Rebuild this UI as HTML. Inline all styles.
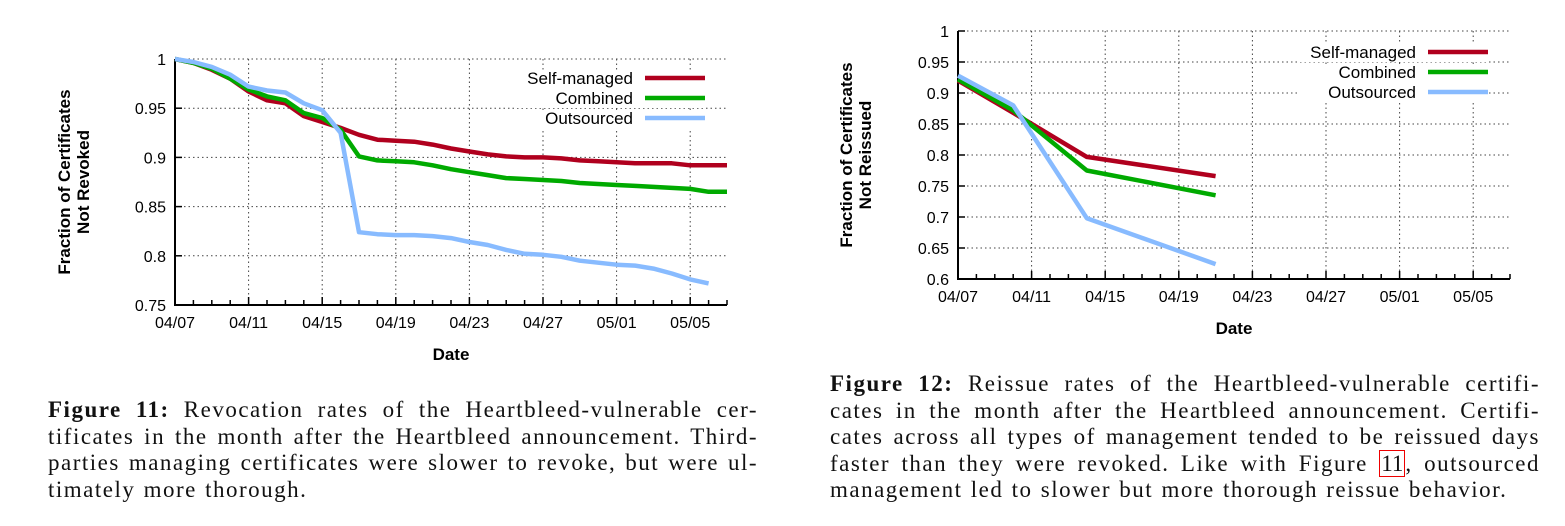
<!DOCTYPE html>
<html><head><meta charset="utf-8"><style>
body{margin:0;width:1565px;height:526px;background:#fff;overflow:hidden;position:relative;font-family:"Liberation Sans",sans-serif}
svg{position:absolute;left:0;top:0}
.cap{position:absolute;font-family:"Liberation Serif",serif;font-size:23px;letter-spacing:1.5px;word-spacing:1px;line-height:26.5px;color:#111}
.cap div{text-align:justify;text-align-last:justify;white-space:nowrap}
.cap div.last{text-align-last:left}
.ref{border:1.5px solid #e00;padding:0 1px;letter-spacing:0}
</style></head><body>
<svg id="svg" width="1565" height="526"></svg>
<div class="cap" style="left:48px;top:397px;width:710px">
<div><b>Figure 11:</b> Revocation rates of the Heartbleed-vulnerable cer-</div>
<div>tificates in the month after the Heartbleed announcement. Third-</div>
<div>parties managing certificates were slower to revoke, but were ul-</div>
<div class="last">timately more thorough.</div>
</div>
<div class="cap" style="left:830px;top:371px;width:710px">
<div><b>Figure 12:</b> Reissue rates of the Heartbleed-vulnerable certifi-</div>
<div>cates in the month after the Heartbleed announcement. Certifi-</div>
<div>cates across all types of management tended to be reissued days</div>
<div>faster than they were revoked. Like with Figure <span class="ref">11</span>, outsourced</div>
<div class="last">management led to slower but more thorough reissue behavior.</div>
</div>
<script>
const xTickLabels=["04/07","04/11","04/15","04/19","04/23","04/27","05/01","05/05"];
const seriesNames=["Self-managed","Combined","Outsourced"];
const colors=["#b0001e","#00aa00","#88bbff"];
const revSelf=[1,.996,.989,.980,.967,.958,.955,.942,.936,.930,.923,.918,.917,.916,.913,.909,.906,.903,.901,.900,.900,.899,.897,.896,.895,.894,.894,.894,.892,.892,.892];
const revComb=[1,.996,.990,.980,.969,.962,.958,.945,.940,.928,.901,.897,.896,.895,.892,.888,.885,.882,.879,.878,.877,.876,.874,.873,.872,.871,.870,.869,.868,.865,.865];
const revOut=[1,.997,.992,.984,.972,.968,.966,.955,.948,.925,.824,.822,.821,.821,.820,.818,.814,.811,.806,.802,.801,.799,.795,.793,.791,.790,.787,.782,.776,.772];
const reiDays=[0,3,7,14];
const reiSelf=[.920,.868,.797,.766];
const reiComb=[.922,.872,.775,.735];
const reiOut=[.928,.880,.698,.624];
const revYTicks=[0.75,0.8,0.85,0.9,0.95,1];
const reiYTicks=[0.6,0.65,0.7,0.75,0.8,0.85,0.9,0.95,1];
const NS="http://www.w3.org/2000/svg";
const svg=document.getElementById('svg');
function mk(tag,attrs,parent){const e=document.createElementNS(NS,tag);for(const k in attrs)e.setAttribute(k,attrs[k]);(parent||svg).appendChild(e);return e;}
function chart(o){
  const g=mk('g',{});
  
  
  const X=d=>o.x0+(o.x1-o.x0)*d/30;
  const Y=v=>o.y1-(o.y1-o.y0)*(v-o.ymin)/(o.ymax-o.ymin);
  o.yticks.forEach(v=>{
    if(v>o.ymin){const l=mk('line',{x1:o.x0,x2:o.x1,y1:Y(v),y2:Y(v),stroke:'#444','stroke-width':1,'stroke-dasharray':'1.5,3'},g);
    }
    const t=mk('text',{x:o.x0-9,y:Y(v)+6,'text-anchor':'end','font-size':16},g);t.textContent=String(v);
    
    mk('line',{x1:o.x0,x2:o.x0+7,y1:Y(v),y2:Y(v),stroke:'#000','stroke-width':1.5},g);
  });
  xTickLabels.forEach((s,i)=>{
    const d=i*4,x=X(d);
    if(d>0){const l=mk('line',{x1:x,x2:x,y1:o.y0,y2:o.y1,stroke:'#444','stroke-width':1,'stroke-dasharray':'1.5,3'},g);
    }
    const t=mk('text',{x:x,y:o.y1+23,'text-anchor':'middle','font-size':16},g);t.textContent=s;
    
  });
  for(let d=0;d<=30;d++){const big=d%4==0;mk('line',{x1:X(d),x2:X(d),y1:o.y1,y2:o.y1-(big?8:5),stroke:'#000','stroke-width':1.5},g);}
  const ax=mk('path',{d:`M${o.x0},${o.y0}V${o.y1}H${o.x1}`,fill:'none',stroke:'#000','stroke-width':2},g);
  
  const xl=mk('text',{x:(o.x0+o.x1)/2,y:o.y1+55,'text-anchor':'middle','font-size':17,'font-weight':'bold'},g);xl.textContent='Date';
  
  const yl=mk('text',{transform:`translate(${o.ylx},${(o.y0+o.y1)/2}) rotate(-90)`,'text-anchor':'middle','font-size':17,'font-weight':'bold'},g);
  
  const a=mk('tspan',{x:0,dy:-2},yl);a.textContent='Fraction of Certificates';
  const b=mk('tspan',{x:0,dy:19},yl);b.textContent=o.ytitle;
  seriesNames.forEach((n,i)=>{
    const y=o.legY+i*20;
    mk('rect',{x:o.legX-118,y:y-14,width:190,height:18,fill:'#fff'},g);
  });
  o.series.forEach((s,i)=>{
    const pts=s.vals.map((v,j)=>`${X(s.days?s.days[j]:j).toFixed(1)},${Y(v).toFixed(1)}`).join(' ');
    const p=mk('polyline',{points:pts,fill:'none',stroke:colors[i],'stroke-width':4.5,'stroke-linejoin':'round'},g);
    
  });
  seriesNames.forEach((n,i)=>{
    const y=o.legY+i*20;
    const t=mk('text',{x:o.legX,y:y,'text-anchor':'end','font-size':17},g);t.textContent=n;
    
    const l=mk('line',{x1:o.legX+12,x2:o.legX+72,y1:y-6,y2:y-6,stroke:colors[i],'stroke-width':4.5},g);
    
  });
}
chart({name:'revocation-chart',x0:175,x1:727,y0:59,y1:305,ymin:.75,ymax:1,yticks:revYTicks,ylx:72,ytitle:'Not Revoked',legX:633,legY:84,
  series:[{vals:revSelf},{vals:revComb},{vals:revOut}]});
chart({name:'reissue-chart',x0:958,x1:1510,y0:31,y1:279,ymin:.6,ymax:1,yticks:reiYTicks,ylx:854,ytitle:'Not Reissued',legX:1416,legY:58,
  series:[{vals:reiSelf,days:reiDays},{vals:reiComb,days:reiDays},{vals:reiOut,days:reiDays}]});
</script>
</body></html>
